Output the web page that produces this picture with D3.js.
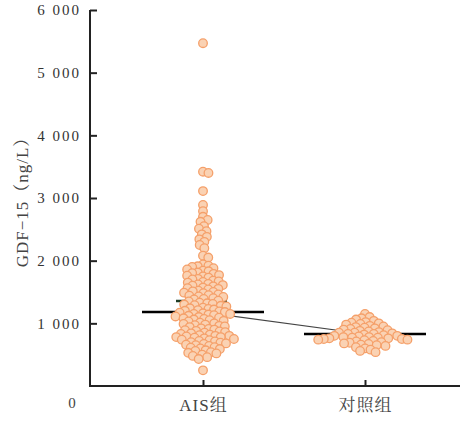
<!DOCTYPE html>
<html>
<head>
<meta charset="utf-8">
<script src="https://cdn.jsdelivr.net/npm/d3@7"></script>
<style>
  body { margin: 0; background: #fff; }
</style>
</head>
<body>
<svg id="chart" width="462" height="421"></svg>
<script>
const groups = ['AIS组', '对照组'];
const yTicks = [1000, 2000, 3000, 4000, 5000, 6000];

const aisValues = [
  5470,
  3420, 3400,
  3110,
  2890, 2790,
  2700, 2650, 2620,
  2550, 2510, 2470,
  2420, 2380, 2340, 2300,
  2250, 2200,
  2080, 2050,
  1940, 1920, 1910, 1900, 1880,
  1860, 1840, 1830, 1810, 1800, 1790, 1770, 1760, 1750, 1730, 1710, 1700,
  1680, 1670, 1660, 1650, 1630, 1620, 1610, 1600, 1590, 1570, 1560, 1550, 1540,
  1520, 1510, 1500, 1490, 1480, 1460, 1450, 1440, 1430, 1420, 1400, 1390, 1380,
  1360, 1350, 1330, 1320, 1310, 1300, 1290, 1280, 1270, 1250, 1240, 1230, 1220, 1210,
  1200, 1190, 1180, 1170, 1160, 1150, 1150, 1140, 1130, 1120, 1110, 1100, 1090, 1080,
  1070, 1060, 1050, 1040, 1030, 1010, 1000, 990, 980, 970, 960, 950, 940, 920, 910, 900,
  890, 880, 870, 860, 850, 840, 830, 820, 810, 800, 800, 790, 780, 780, 770, 760, 750, 740,
  730, 720, 710, 700, 690, 680, 670, 660, 650, 640, 620, 610,
  600, 590, 570, 560, 540, 530, 520, 500, 480, 460, 430,
  250
];

const controlValues = [
  1150, 1100, 1080, 1060, 1040, 1020, 1010, 1000, 990, 980,
  960, 950, 940, 930, 920, 910, 900, 890, 880, 870,
  860, 850, 850, 840, 830, 830, 820, 810, 800, 800,
  790, 780, 780, 770, 770, 760, 760, 750, 750, 740,
  740, 730, 720, 710, 700, 690, 680, 670, 660, 650,
  640, 620, 600, 580, 560, 540
];

// long black bars and short green bar
const medians = [1180, 830];
const aisMean = 1355;

const serif = '"Liberation Serif", "Times New Roman", serif';
const cjk = '"Liberation Serif", "Noto Serif CJK SC", "Noto Sans CJK SC", serif';

const svg = d3.select('#chart');
const margin = { left: 90, right: 2, top: 10, bottom: 35 };
const W = 462, H = 421;

const y = d3.scaleLinear().domain([0, 6000]).range([H - margin.bottom, margin.top]);
const x = d3.scalePoint().domain(groups).range([203, 365]);

const fmt = d3.formatLocale({ decimal: '.', thousands: ' ', grouping: [3], currency: ['', ''] }).format(',');

// y axis
const yAxis = svg.append('g')
  .attr('transform', `translate(${margin.left},0)`)
  .call(d3.axisLeft(y).tickValues(yTicks).tickFormat(fmt).tickSizeInner(-7).tickSizeOuter(0).tickPadding(9));
yAxis.select('.domain').attr('stroke', '#222').attr('stroke-width', 2)
  .attr('d', `M0,${y(0)}V${y(6000)}`);
yAxis.selectAll('.tick line').attr('stroke', '#222').attr('stroke-width', 2);
yAxis.selectAll('.tick text')
  .style('font-family', serif).style('font-size', '15px')
  .attr('letter-spacing', 2).attr('fill', '#333');

// x axis
const xAxis = svg.append('g')
  .attr('transform', `translate(0,${y(0)})`)
  .call(d3.axisBottom(x).tickSizeInner(-6).tickSizeOuter(0).tickPadding(13));
xAxis.select('.domain').attr('stroke', '#222').attr('stroke-width', 2)
  .attr('d', `M${margin.left - 1},0H${W - 2}`);
xAxis.selectAll('.tick line').attr('stroke', '#222').attr('stroke-width', 2);
xAxis.selectAll('.tick text')
  .style('font-family', cjk).style('font-size', '17px')
  .attr('letter-spacing', 1).attr('fill', '#444');

svg.append('text')
  .attr('x', 72).attr('y', 408)
  .attr('text-anchor', 'middle')
  .style('font-family', serif).style('font-size', '15px')
  .attr('fill', '#444')
  .text('0');

svg.append('text')
  .attr('transform', 'translate(28,198) rotate(-90)')
  .attr('text-anchor', 'middle')
  .style('font-family', cjk).style('font-size', '17px')
  .attr('letter-spacing', 1)
  .attr('fill', '#444')
  .text('GDF−15（ng/L）');

// connecting line between group bars
svg.append('line')
  .attr('x1', x(groups[0])).attr('y1', y(medians[0]))
  .attr('x2', x(groups[1])).attr('y2', y(medians[1]))
  .attr('stroke', '#444').attr('stroke-width', 1.2);

const halfBar = 61;
svg.selectAll('.median').data(groups).join('line')
  .attr('class', 'median')
  .attr('x1', d => x(d) - halfBar).attr('x2', d => x(d) + halfBar)
  .attr('y1', (d, i) => y(medians[i])).attr('y2', (d, i) => y(medians[i]))
  .attr('stroke', '#000').attr('stroke-width', 2.5);

svg.append('line')
  .attr('x1', x(groups[0]) - 27).attr('x2', x(groups[0]) + 24)
  .attr('y1', y(aisMean)).attr('y2', y(aisMean))
  .attr('stroke', '#1f3d25').attr('stroke-width', 2.5);

// simple beeswarm, dots allowed to overlap a bit
const r = 4.3, gap = 5.6;
function swarm(values) {
  const placed = [];
  const sorted = values.map(v => ({ v, py: y(v) })).sort((a, b) => a.py - b.py);
  sorted.forEach(p => {
    const cands = [0];
    placed.forEach(q => {
      const dy = Math.abs(q.py - p.py);
      if (dy < gap) {
        const dx = Math.sqrt(gap * gap - dy * dy);
        cands.push(q.dx + dx, q.dx - dx);
      }
    });
    cands.sort((a, b) => Math.abs(a) - Math.abs(b));
    for (const c of cands) {
      const ok = placed.every(q => {
        const ddx = q.dx - c, ddy = q.py - p.py;
        return ddx * ddx + ddy * ddy >= gap * gap - 0.01;
      });
      if (ok) { p.dx = c; break; }
    }
    placed.push(p);
  });
  return placed;
}

[aisValues, controlValues].forEach((vals, i) => {
  const pts = swarm(vals);
  svg.append('g').selectAll('circle').data(pts).join('circle')
    .attr('cx', d => x(groups[i]) + d.dx)
    .attr('cy', d => d.py)
    .attr('r', r)
    .attr('fill', '#fad2b3')
    .attr('stroke', '#f5a06a')
    .attr('stroke-width', 1.3);
});
</script>
</body>
</html>
